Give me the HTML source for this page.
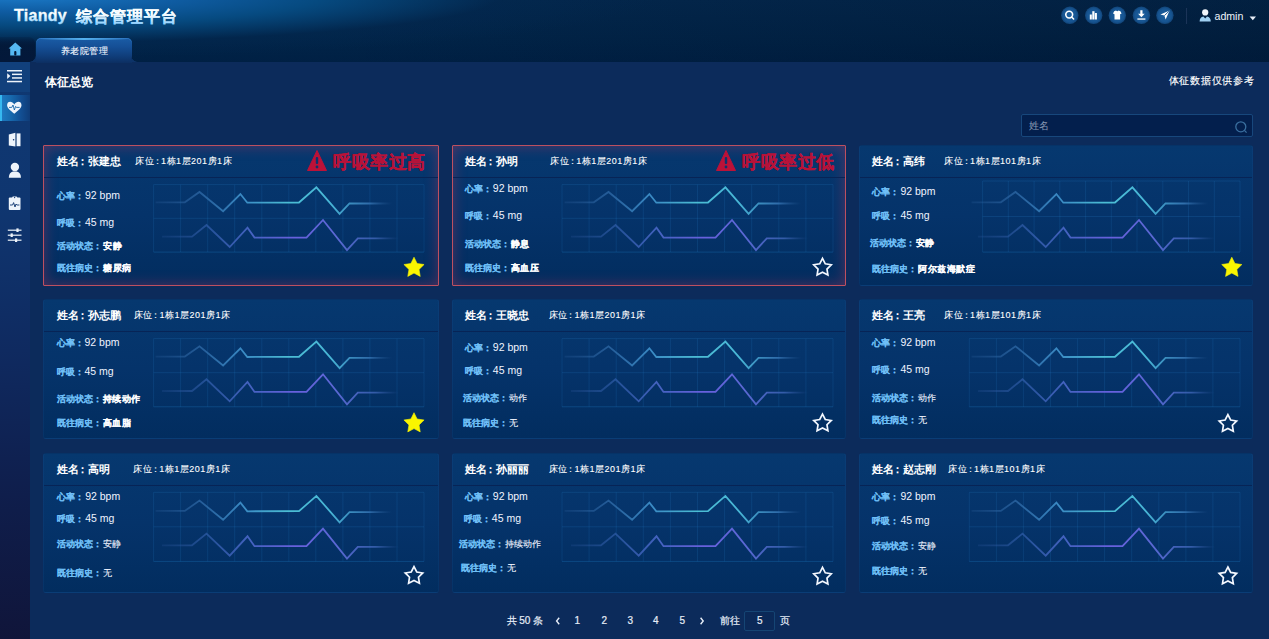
<!DOCTYPE html>
<html><head><meta charset="utf-8"><style>
*{margin:0;padding:0;box-sizing:border-box}
html,body{width:1269px;height:639px;overflow:hidden;background:#0c2b5b;font-family:"Liberation Sans",sans-serif;color:#fff}
.abs,.t,.card,.hline,.chart,.star,.warn{position:absolute}
#header{position:absolute;left:0;top:0;width:1269px;height:62px}
#sidebar{position:absolute;left:0;top:62px;width:30px;height:577px}
.t{white-space:nowrap;line-height:1}
.card{border:1px solid rgba(70,130,210,0.08);border-radius:3px;background:linear-gradient(180deg,#06386f 0%,#05336a 50%,#022d5f 100%)}
.card.alert{border:1px solid #bd5060;border-radius:1px;box-shadow:inset 0 0 14px rgba(180,50,90,0.45)}
.hline{height:1px;background:#072456}
.name{font-size:11px;font-weight:bold;color:#fff;transform:translateY(-50%)}
.bed{font-size:9px;letter-spacing:0.5px;-webkit-text-stroke:0.1px #fff;color:#fff;transform:translateY(-50%)}
.alerttxt{font-size:18px;font-weight:bold;color:#b81238;letter-spacing:0.6px;-webkit-text-stroke:0.3px #b81238;transform:translateY(-50%);margin-top:0.5px}
.row{transform:translateY(-50%);font-size:9px}
.lab{color:#70c0f8;font-weight:bold;-webkit-text-stroke:0.05px #70c0f8}
.val{color:#f0f4ff;font-size:9px;-webkit-text-stroke:0.1px #f0f4ff}
.val.en{font-size:10.5px;-webkit-text-stroke:0}
.val.b{font-weight:bold;font-size:9px;letter-spacing:0.5px;-webkit-text-stroke:0.15px #fff}
.gv{stroke:rgba(50,150,225,0.14);stroke-width:1}
.gh{stroke:rgba(50,150,225,0.16);stroke-width:1}
.gb{stroke:rgba(40,150,230,0.24);stroke-width:1}
#header{background:radial-gradient(ellipse 640px 62px at 20px -4px,#1b7ac8 0%,#0f5ca2 25%,#064a80 47%,rgba(3,40,80,0.5) 75%,rgba(2,30,62,0) 100%),linear-gradient(90deg,rgba(0,0,0,0) 0%,rgba(0,0,0,0) 25%,rgba(1,14,34,0.3) 100%),linear-gradient(180deg,#03284e 0%,#012448 60%,#002044 100%)}
.tab{border-radius:5px 5px 0 0;background:linear-gradient(180deg,#1a5ca6 0%,#154f96 35%,#0f3c78 75%,#0c2f62 100%);box-shadow:inset 0 1px 0 rgba(60,140,220,0.5)}
.pg{font-size:10px;color:#e6edf7;-webkit-text-stroke:0.2px #e6edf7}
#sidebar{background:linear-gradient(180deg,#0f3872 0%,#0f3670 25%,#0f2a60 50%,#0f1e4c 75%,#10153a 100%)}
.co{display:inline-block;margin-left:0px;margin-right:1px}
.co2{display:inline-block;margin-left:-2px;margin-right:0px}
.co3{display:inline-block;margin-left:-1.5px;margin-right:-1px}

</style></head><body>
<div id="header"></div>
<svg class="abs" style="left:0;top:0;z-index:2" width="200" height="32" viewBox="0 0 200 32"><defs><linearGradient id="lg" x1="0" y1="8" x2="0" y2="24" gradientUnits="userSpaceOnUse"><stop offset="0" stop-color="#ffffff"/><stop offset="0.45" stop-color="#f4fbff"/><stop offset="1" stop-color="#8ccfff"/></linearGradient></defs>
<text x="14" y="20.5" font-family="Liberation Sans" font-weight="bold" font-size="16" fill="url(#lg)" stroke="url(#lg)" stroke-width="0.3" style="letter-spacing:0.3px">Tiandy</text>
<text x="75.5" y="21.5" font-family="Liberation Sans" font-weight="bold" font-size="16" fill="url(#lg)" stroke="url(#lg)" stroke-width="0.2" style="letter-spacing:1px">综合管理平台</text></svg>
<!-- header icons -->
<svg class="abs" style="left:1055px;top:0;z-index:3" width="125" height="32" viewBox="1055 0 125 32">
 <defs><radialGradient id="cg"><stop offset="0" stop-color="#1c609f"/><stop offset="0.75" stop-color="#175592"/><stop offset="1" stop-color="#114478"/></radialGradient></defs>
 <g fill="url(#cg)">
  <circle cx="1069.8" cy="15.3" r="8.7"/><circle cx="1093.7" cy="15.3" r="8.7"/><circle cx="1117.3" cy="15.3" r="8.7"/><circle cx="1141.4" cy="15.3" r="8.7"/><circle cx="1164.9" cy="15.3" r="8.7"/>
 </g>
 <!-- search -->
 <circle cx="1069.2" cy="14.6" r="3.4" fill="none" stroke="#fff" stroke-width="1.6"/>
 <line x1="1071.6" y1="17" x2="1073.6" y2="19" stroke="#fff" stroke-width="1.6" stroke-linecap="round"/>
 <!-- chart -->
 <g fill="#fff"><rect x="1089.8" y="14.5" width="2" height="5"/><rect x="1092.3" y="11.2" width="2.2" height="8.3"/><rect x="1094.9" y="13" width="2" height="6.5"/></g>
 <!-- shirt -->
 <path d="M1114.2 11.2 L1116 10.6 Q1117.3 11.8 1118.6 10.6 L1120.4 11.2 L1121.6 13.6 L1120.1 14.2 L1120.1 19.6 L1114.5 19.6 L1114.5 14.2 L1113 13.6 Z" fill="#fff"/>
 <!-- download -->
 <path d="M1140.3 10.2 h2.2 v3.6 h2.2 l-3.3 3.4 l-3.3 -3.4 h2.2 z" fill="#fff"/>
 <rect x="1137.4" y="18.4" width="8" height="1.3" fill="#fff"/>
 <!-- send -->
 <path d="M1169.6 10.6 L1160.4 14.6 L1164.4 15.6 L1165.6 19.6 Z" fill="#fff"/>
 <path d="M1169.6 10.6 L1164.4 15.6" stroke="#15548f" stroke-width="0.9"/>
</svg>
<div class="abs" style="left:1186px;top:8px;width:1px;height:16px;background:#1b3458;z-index:3"></div>
<svg class="abs" style="left:1199px;top:9px;z-index:3" width="13" height="13" viewBox="0 0 13 13">
 <circle cx="6.2" cy="3.4" r="3.1" fill="#f2f6fb"/>
 <path d="M0.6 12.6 Q0.8 8 4.4 7.6 L6.2 9.4 L8 7.6 Q11.6 8 11.8 12.6 Z" fill="#9fd0f2"/>
</svg>
<div class="t" style="left:1214.5px;top:10.5px;font-size:10.6px;color:#eef3fa;z-index:3">admin</div>
<svg class="abs" style="left:1249px;top:16px;z-index:3" width="8" height="5" viewBox="0 0 8 5"><path d="M0.6 0.6 L7 0.6 L3.8 4.2 Z" fill="#e8eef8"/></svg>

<!-- home dark area + icon -->
<div class="abs" style="left:0;top:37px;width:35px;height:25px;background:linear-gradient(180deg,rgba(3,24,56,0.2),rgba(3,24,56,0.9) 35%,#03183a 100%);border-radius:0 6px 6px 0;z-index:2"></div>
<svg class="abs" style="left:8px;top:42px;z-index:3" width="15" height="15" viewBox="0 0 15 15">
 <path d="M7.3 0.6 L14 6.6 L12.4 6.6 L12.4 13.6 L2.2 13.6 L2.2 6.6 L0.6 6.6 Z" fill="#55b8f2"/>
 <rect x="6.2" y="9" width="2.2" height="4.6" rx="1" fill="#041838"/>
</svg>
<!-- tab -->
<div class="abs tab" style="left:36px;top:38px;width:96px;height:25px;z-index:3"></div>
<div class="abs" style="left:40px;top:38px;width:88px;height:1.5px;z-index:3;background:linear-gradient(90deg,rgba(80,180,245,0) 0%,rgba(90,185,245,0.9) 50%,rgba(80,180,245,0) 100%)"></div>
<div class="abs" style="left:131px;top:55px;width:7px;height:7px;z-index:3;background:radial-gradient(circle at 7px 0px,rgba(0,0,0,0) 6.5px,#0d3368 7.2px)"></div>
<div class="abs" style="left:29px;top:55px;width:7px;height:7px;z-index:3;background:radial-gradient(circle at 0px 0px,rgba(0,0,0,0) 6.5px,#0d3368 7.2px)"></div>
<div class="t" style="left:60.5px;top:46.5px;font-size:9px;letter-spacing:0.6px;color:#f4f8ff;-webkit-text-stroke:0.1px #f4f8ff;z-index:4">养老院管理</div>

<div id="sidebar"></div>
<div class="abs" style="left:0;top:62px;width:30px;height:30px;background:#11407c"></div>
<div class="abs" style="left:0;top:95px;width:30px;height:26px;background:linear-gradient(90deg,#1f7cc4 0%,#176aae 35%,#124e92 70%,#0f3c78 100%)"></div>
<div class="abs" style="left:0;top:95px;width:1.5px;height:26px;background:#36b8f0"></div>
<svg class="abs" style="left:0;top:62px" width="30" height="190" viewBox="0 0 30 190">
 <g fill="#eef4fb">
  <!-- menu icon 7..22 x, 70..82.5 y -->
  <rect x="7" y="8" width="15" height="1.5"/><rect x="12" y="11.6" width="10" height="1.5"/><rect x="12" y="15.2" width="10" height="1.5"/><rect x="7" y="18.8" width="15" height="1.5"/>
  <path d="M7.2 11.2 L10.4 14.1 L7.2 17 Z"/>
  <!-- heart 7..21.4, 101..113.7 -->
  <path d="M14.3 42.4 C12 38.6 7 39.2 7.1 43.2 C7.2 46 10 48 14.3 51.8 C18.6 48 21.4 46 21.5 43.2 C21.6 39.2 16.6 38.6 14.3 42.4 Z"/>
 </g>
 <path d="M9 45.4 L11.8 45.4 L13 43 L14.4 48 L15.6 44.4 L16.4 45.4 L19.6 45.4" fill="none" stroke="#1565a8" stroke-width="0.9"/>
 <g fill="#eef4fb">
  <!-- door 8.8..20.5, 132.8..146.5 -->
  <path d="M8.8 72.4 L15.4 70.8 L15.4 84.6 L8.8 83.4 Z"/>
  <rect x="16.6" y="71.4" width="3.9" height="12.8"/>
 </g>
 <circle cx="13.6" cy="77.8" r="0.8" fill="#0e356f"/>
 <g fill="#eef4fb">
  <!-- person 8.8..21, 163..177.8 -->
  <circle cx="14.9" cy="105" r="4.2"/>
  <path d="M8.8 115.8 Q9 110.4 13 109.6 L16.8 109.6 Q20.8 110.4 21 115.8 Z"/>
  <!-- clipboard 8.8..20.5, 196.4..210 -->
  <rect x="8.8" y="135.6" width="11.7" height="12.4" rx="1"/>
  <rect x="12.2" y="134.4" width="5" height="2.6" rx="1"/>
  <!-- sliders 7.8..21.5, 228.7..242 -->
  <rect x="7.8" y="167.6" width="13.7" height="1.2"/><rect x="7.8" y="172.6" width="13.7" height="1.2"/><rect x="7.8" y="177.6" width="13.7" height="1.2"/>
  <rect x="16.4" y="166.4" width="2.2" height="3.6"/><rect x="10.6" y="171.4" width="2.2" height="3.6"/><rect x="15" y="176.4" width="2.2" height="3.6"/>
 </g>
 <path d="M10 143 L12.6 143 L13.6 140.6 L15 145 L16 142 L16.8 143 L19.4 143" fill="none" stroke="#0e356f" stroke-width="0.9"/>
 <circle cx="14.6" cy="135.6" r="0.7" fill="#0e356f"/>
</svg>

<div class="t" style="left:44.5px;top:76px;font-size:12px;font-weight:bold">体征总览</div>
<div class="t" style="left:1168.5px;top:76px;font-size:10px;letter-spacing:0.75px;-webkit-text-stroke:0.15px #fff">体征数据仅供参考</div>
<!-- search -->
<div class="abs" style="left:1021px;top:114px;width:232px;height:23px;background:#031f4d;border:1px solid #17477c;border-radius:2px"></div>
<div class="t" style="left:1029px;top:121px;font-size:9.6px;color:#8a9bb4">姓名</div>
<svg class="abs" style="left:1234px;top:120px" width="14" height="14" viewBox="0 0 14 14"><circle cx="6.8" cy="6.8" r="5" fill="none" stroke="#3a6f9f" stroke-width="1.3"/><line x1="10.4" y1="10.4" x2="12.6" y2="12.6" stroke="#3a6f9f" stroke-width="1.3"/></svg>
<!-- pagination -->
<div class="t pg" style="left:506.5px;top:615.5px">共 50 条</div>
<svg class="abs" style="left:554px;top:616px" width="8" height="10" viewBox="0 0 8 10"><polyline points="5.2,1.8 2.6,5 5.2,8.2" fill="none" stroke="#e6edf7" stroke-width="1.4"/></svg>
<div class="t pg" style="left:574.5px;top:615.5px">1</div>
<div class="t pg" style="left:601.5px;top:615.5px">2</div>
<div class="t pg" style="left:627.5px;top:615.5px">3</div>
<div class="t pg" style="left:653px;top:615.5px">4</div>
<div class="t pg" style="left:679.5px;top:615.5px">5</div>
<svg class="abs" style="left:698px;top:616px" width="8" height="10" viewBox="0 0 8 10"><polyline points="2.6,1.8 5.2,5 2.6,8.2" fill="none" stroke="#e6edf7" stroke-width="1.4"/></svg>
<div class="t pg" style="left:719.5px;top:615.5px">前往</div>
<div class="abs" style="left:744px;top:611px;width:31px;height:20px;border:1px solid #154574;border-radius:2px;background:#0b2958"></div>
<div class="t pg" style="left:757px;top:615.5px">5</div>
<div class="t pg" style="left:779.5px;top:615.5px">页</div>

<svg width="0" height="0" style="position:absolute"><defs>
<linearGradient id="lt" x1="112" x2="349" y1="0" y2="0" gradientUnits="userSpaceOnUse">
<stop offset="0" stop-color="#2a5c98" stop-opacity="0.25"/><stop offset="0.19" stop-color="#2f6aa8" stop-opacity="0.75"/><stop offset="0.37" stop-color="#3a8ac4"/><stop offset="0.56" stop-color="#4bbdd4"/><stop offset="0.74" stop-color="#48b6d6"/><stop offset="0.9" stop-color="#3a7cbc" stop-opacity="0.8"/><stop offset="1" stop-color="#2a5c98" stop-opacity="0"/></linearGradient>
<linearGradient id="lp" x1="119" x2="356" y1="0" y2="0" gradientUnits="userSpaceOnUse">
<stop offset="0" stop-color="#2a5498" stop-opacity="0.25"/><stop offset="0.19" stop-color="#2f5ca8" stop-opacity="0.75"/><stop offset="0.37" stop-color="#4462c0"/><stop offset="0.56" stop-color="#6860de"/><stop offset="0.74" stop-color="#5a68d4"/><stop offset="0.9" stop-color="#3e66b8" stop-opacity="0.8"/><stop offset="1" stop-color="#2a5498" stop-opacity="0"/></linearGradient>
</defs></svg>
<div class="card alert" style="left:43px;top:145px;height:141px;width:396px"></div>
<div class="hline" style="left:44px;top:177px;width:394px"></div>
<div class="t name" style="left:57px;top:161px">姓名<span class=co2>：</span>张建忠</div>
<div class="t bed" style="left:135px;top:161px">床位<span class=co3>：</span>1栋1层201房1床</div>
<svg class="warn" style="left:307px;top:150px" width="20" height="21" viewBox="0 0 20 21"><path d="M10 0.5 L19.5 20.5 L0.5 20.5 Z" fill="#bc1238" stroke="#bc1238" stroke-width="1" stroke-linejoin="round"/><rect x="8.8" y="7" width="2.4" height="7" rx="1" fill="#0b3470"/><circle cx="10" cy="17" r="1.4" fill="#0b3470"/></svg>
<div class="t alerttxt" style="left:333px;top:161px">呼吸率过高</div>
<div class="t row" style="left:57px;top:194.6px"><span class="lab">心率<span class=co>：</span></span><span class="val en">92 bpm</span></div>
<div class="t row" style="left:57px;top:221.8px"><span class="lab">呼吸<span class=co>：</span></span><span class="val en">45 mg</span></div>
<div class="t row" style="left:57px;top:246px"><span class="lab">活动状态<span class=co>：</span></span><span class="val b">安静</span></div>
<div class="t row" style="left:57px;top:268.4px"><span class="lab">既往病史<span class=co>：</span></span><span class="val b">糖尿病</span></div>
<svg class="chart" style="left:43px;top:145px" width="395" height="141" viewBox="0 0 395 141"><defs><linearGradient id="gt0" x1="0" x2="1" y1="0" y2="0" gradientUnits="userSpaceOnUse"></linearGradient></defs><line x1="110.6" y1="39.6" x2="110.6" y2="107.1" class="gv"/><line x1="137.6" y1="39.6" x2="137.6" y2="107.1" class="gv"/><line x1="164.7" y1="39.6" x2="164.7" y2="107.1" class="gv"/><line x1="191.7" y1="39.6" x2="191.7" y2="107.1" class="gv"/><line x1="218.8" y1="39.6" x2="218.8" y2="107.1" class="gv"/><line x1="245.8" y1="39.6" x2="245.8" y2="107.1" class="gv"/><line x1="272.8" y1="39.6" x2="272.8" y2="107.1" class="gv"/><line x1="299.9" y1="39.6" x2="299.9" y2="107.1" class="gv"/><line x1="326.9" y1="39.6" x2="326.9" y2="107.1" class="gv"/><line x1="354.0" y1="39.6" x2="354.0" y2="107.1" class="gv"/><line x1="381.0" y1="39.6" x2="381.0" y2="107.1" class="gv"/><line x1="110.6" y1="39.6" x2="381" y2="39.6" class="gh"/><line x1="110.6" y1="73.3" x2="381" y2="73.3" class="gh"/><line x1="110.6" y1="107.1" x2="381" y2="107.1" class="gb"/><polyline points="112.6,57.3 141.8,57.3 156.5,47.0 180.1,66.2 197.4,49.0 204.3,57.7 256.0,57.5 273.4,42.3 296.6,68.8 306.5,58.5 349.0,58.5" fill="none" stroke="url(#lt)" stroke-width="1.8" stroke-linejoin="miter"/><polyline points="119.0,91.7 149.0,91.7 163.5,80.0 186.7,102.0 204.5,82.7 211.5,92.6 263.5,92.6 280.0,75.0 304.0,105.0 314.8,93.3 356.0,93.3" fill="none" stroke="url(#lp)" stroke-width="1.8" stroke-linejoin="miter"/></svg>
<svg class="star" style="left:0;top:0" width="1269" height="639"><polygon points="414.00,257.20 417.12,263.51 424.08,264.52 419.04,269.44 420.23,276.38 414.00,273.10 407.77,276.38 408.96,269.44 403.92,264.52 410.88,263.51" fill="#faf500" stroke="#faf500" stroke-width="0.6" stroke-linejoin="round"/></svg>
<div class="card alert" style="left:452px;top:145px;height:141px;width:394px"></div>
<div class="hline" style="left:453px;top:177px;width:392px"></div>
<div class="t name" style="left:464.8px;top:161px">姓名<span class=co2>：</span>孙明</div>
<div class="t bed" style="left:550.3px;top:161px">床位<span class=co3>：</span>1栋1层201房1床</div>
<svg class="warn" style="left:716px;top:150px" width="20" height="21" viewBox="0 0 20 21"><path d="M10 0.5 L19.5 20.5 L0.5 20.5 Z" fill="#bc1238" stroke="#bc1238" stroke-width="1" stroke-linejoin="round"/><rect x="8.8" y="7" width="2.4" height="7" rx="1" fill="#0b3470"/><circle cx="10" cy="17" r="1.4" fill="#0b3470"/></svg>
<div class="t alerttxt" style="left:742px;top:161px">呼吸率过低</div>
<div class="t row" style="left:464.8px;top:188px"><span class="lab">心率<span class=co>：</span></span><span class="val en">92 bpm</span></div>
<div class="t row" style="left:464.8px;top:215px"><span class="lab">呼吸<span class=co>：</span></span><span class="val en">45 mg</span></div>
<div class="t row" style="left:464.8px;top:244.3px"><span class="lab">活动状态<span class=co>：</span></span><span class="val b">静息</span></div>
<div class="t row" style="left:464.8px;top:268.4px"><span class="lab">既往病史<span class=co>：</span></span><span class="val b">高血压</span></div>
<svg class="chart" style="left:452px;top:145px" width="395" height="141" viewBox="0 0 395 141"><defs><linearGradient id="gt1" x1="0" x2="1" y1="0" y2="0" gradientUnits="userSpaceOnUse"></linearGradient></defs><line x1="110.0" y1="39.6" x2="110.0" y2="107.1" class="gv"/><line x1="137.1" y1="39.6" x2="137.1" y2="107.1" class="gv"/><line x1="164.2" y1="39.6" x2="164.2" y2="107.1" class="gv"/><line x1="191.3" y1="39.6" x2="191.3" y2="107.1" class="gv"/><line x1="218.4" y1="39.6" x2="218.4" y2="107.1" class="gv"/><line x1="245.5" y1="39.6" x2="245.5" y2="107.1" class="gv"/><line x1="272.6" y1="39.6" x2="272.6" y2="107.1" class="gv"/><line x1="299.7" y1="39.6" x2="299.7" y2="107.1" class="gv"/><line x1="326.8" y1="39.6" x2="326.8" y2="107.1" class="gv"/><line x1="353.9" y1="39.6" x2="353.9" y2="107.1" class="gv"/><line x1="381.0" y1="39.6" x2="381.0" y2="107.1" class="gv"/><line x1="110" y1="39.6" x2="381" y2="39.6" class="gh"/><line x1="110" y1="73.3" x2="381" y2="73.3" class="gh"/><line x1="110" y1="107.1" x2="381" y2="107.1" class="gb"/><polyline points="112.6,57.3 141.8,57.3 156.5,47.0 180.1,66.2 197.4,49.0 204.3,57.7 256.0,57.5 273.4,42.3 296.6,68.8 306.5,58.5 349.0,58.5" fill="none" stroke="url(#lt)" stroke-width="1.8" stroke-linejoin="miter"/><polyline points="119.0,91.7 149.0,91.7 163.5,80.0 186.7,102.0 204.5,82.7 211.5,92.6 263.5,92.6 280.0,75.0 304.0,105.0 314.8,93.3 356.0,93.3" fill="none" stroke="url(#lp)" stroke-width="1.8" stroke-linejoin="miter"/></svg>
<svg class="star" style="left:0;top:0" width="1269" height="639"><polygon points="822.50,258.40 825.26,263.80 831.25,264.76 826.97,269.05 827.91,275.04 822.50,272.30 817.09,275.04 818.03,269.05 813.75,264.76 819.74,263.80" fill="none" stroke="#f4f8ff" stroke-width="1.7" stroke-linejoin="miter" stroke-miterlimit="3"/></svg>
<div class="card" style="left:859px;top:145px;height:141px;width:394px"></div>
<div class="hline" style="left:860px;top:177px;width:392px"></div>
<div class="t name" style="left:872.4px;top:161px">姓名<span class=co2>：</span>高纬</div>
<div class="t bed" style="left:944px;top:161px">床位<span class=co3>：</span>1栋1层101房1床</div>
<div class="t row" style="left:872.4px;top:191px"><span class="lab">心率<span class=co>：</span></span><span class="val en">92 bpm</span></div>
<div class="t row" style="left:872.4px;top:215.2px"><span class="lab">呼吸<span class=co>：</span></span><span class="val en">45 mg</span></div>
<div class="t row" style="left:869.8px;top:243.3px"><span class="lab">活动状态<span class=co>：</span></span><span class="val b">安静</span></div>
<div class="t row" style="left:872.4px;top:268.7px"><span class="lab">既往病史<span class=co>：</span></span><span class="val b">阿尔兹海默症</span></div>
<svg class="chart" style="left:859px;top:145px" width="395" height="141" viewBox="0 0 395 141"><defs><linearGradient id="gt2" x1="0" x2="1" y1="0" y2="0" gradientUnits="userSpaceOnUse"></linearGradient></defs><line x1="123.6" y1="36" x2="123.6" y2="107.1" class="gv"/><line x1="149.3" y1="36" x2="149.3" y2="107.1" class="gv"/><line x1="175.1" y1="36" x2="175.1" y2="107.1" class="gv"/><line x1="200.8" y1="36" x2="200.8" y2="107.1" class="gv"/><line x1="226.6" y1="36" x2="226.6" y2="107.1" class="gv"/><line x1="252.3" y1="36" x2="252.3" y2="107.1" class="gv"/><line x1="278.0" y1="36" x2="278.0" y2="107.1" class="gv"/><line x1="303.8" y1="36" x2="303.8" y2="107.1" class="gv"/><line x1="329.5" y1="36" x2="329.5" y2="107.1" class="gv"/><line x1="355.3" y1="36" x2="355.3" y2="107.1" class="gv"/><line x1="381.0" y1="36" x2="381.0" y2="107.1" class="gv"/><line x1="123.6" y1="36.0" x2="381" y2="36.0" class="gh"/><line x1="123.6" y1="71.5" x2="381" y2="71.5" class="gh"/><line x1="123.6" y1="107.1" x2="381" y2="107.1" class="gb"/><polyline points="112.6,57.3 141.8,57.3 156.5,47.0 180.1,66.2 197.4,49.0 204.3,57.7 256.0,57.5 273.4,42.3 296.6,68.8 306.5,58.5 349.0,58.5" fill="none" stroke="url(#lt)" stroke-width="1.8" stroke-linejoin="miter"/><polyline points="119.0,91.7 149.0,91.7 163.5,80.0 186.7,102.0 204.5,82.7 211.5,92.6 263.5,92.6 280.0,75.0 304.0,105.0 314.8,93.3 356.0,93.3" fill="none" stroke="url(#lp)" stroke-width="1.8" stroke-linejoin="miter"/></svg>
<svg class="star" style="left:0;top:0" width="1269" height="639"><polygon points="1231.80,257.20 1234.92,263.51 1241.88,264.52 1236.84,269.44 1238.03,276.38 1231.80,273.10 1225.57,276.38 1226.76,269.44 1221.72,264.52 1228.68,263.51" fill="#faf500" stroke="#faf500" stroke-width="0.6" stroke-linejoin="round"/></svg>
<div class="card" style="left:43px;top:299px;height:140px;width:396px"></div>
<div class="hline" style="left:44px;top:331px;width:394px"></div>
<div class="t name" style="left:56.5px;top:315px">姓名<span class=co2>：</span>孙志鹏</div>
<div class="t bed" style="left:133.6px;top:315px">床位<span class=co3>：</span>1栋1层201房1床</div>
<div class="t row" style="left:56.5px;top:342px"><span class="lab">心率<span class=co>：</span></span><span class="val en">92 bpm</span></div>
<div class="t row" style="left:56.5px;top:371px"><span class="lab">呼吸<span class=co>：</span></span><span class="val en">45 mg</span></div>
<div class="t row" style="left:56.5px;top:398.6px"><span class="lab">活动状态<span class=co>：</span></span><span class="val b">持续动作</span></div>
<div class="t row" style="left:56.5px;top:423px"><span class="lab">既往病史<span class=co>：</span></span><span class="val b">高血脂</span></div>
<svg class="chart" style="left:43px;top:299px" width="395" height="140" viewBox="0 0 395 140"><defs><linearGradient id="gt3" x1="0" x2="1" y1="0" y2="0" gradientUnits="userSpaceOnUse"></linearGradient></defs><line x1="110.6" y1="39.6" x2="110.6" y2="107.8" class="gv"/><line x1="137.6" y1="39.6" x2="137.6" y2="107.8" class="gv"/><line x1="164.7" y1="39.6" x2="164.7" y2="107.8" class="gv"/><line x1="191.7" y1="39.6" x2="191.7" y2="107.8" class="gv"/><line x1="218.8" y1="39.6" x2="218.8" y2="107.8" class="gv"/><line x1="245.8" y1="39.6" x2="245.8" y2="107.8" class="gv"/><line x1="272.8" y1="39.6" x2="272.8" y2="107.8" class="gv"/><line x1="299.9" y1="39.6" x2="299.9" y2="107.8" class="gv"/><line x1="326.9" y1="39.6" x2="326.9" y2="107.8" class="gv"/><line x1="354.0" y1="39.6" x2="354.0" y2="107.8" class="gv"/><line x1="381.0" y1="39.6" x2="381.0" y2="107.8" class="gv"/><line x1="110.6" y1="39.6" x2="381" y2="39.6" class="gh"/><line x1="110.6" y1="73.7" x2="381" y2="73.7" class="gh"/><line x1="110.6" y1="107.8" x2="381" y2="107.8" class="gb"/><polyline points="112.6,57.6 141.8,57.6 156.5,47.3 180.1,66.5 197.4,49.3 204.3,58.0 256.0,57.8 273.4,42.6 296.6,69.1 306.5,58.8 349.0,58.8" fill="none" stroke="url(#lt)" stroke-width="1.8" stroke-linejoin="miter"/><polyline points="119.0,92.0 149.0,92.0 163.5,80.3 186.7,102.3 204.5,83.0 211.5,92.9 263.5,92.9 280.0,75.3 304.0,105.3 314.8,93.6 356.0,93.6" fill="none" stroke="url(#lp)" stroke-width="1.8" stroke-linejoin="miter"/></svg>
<svg class="star" style="left:0;top:0" width="1269" height="639"><polygon points="414.00,412.70 417.12,419.01 424.08,420.02 419.04,424.94 420.23,431.88 414.00,428.60 407.77,431.88 408.96,424.94 403.92,420.02 410.88,419.01" fill="#faf500" stroke="#faf500" stroke-width="0.6" stroke-linejoin="round"/></svg>
<div class="card" style="left:452px;top:299px;height:140px;width:394px"></div>
<div class="hline" style="left:453px;top:331px;width:392px"></div>
<div class="t name" style="left:464.8px;top:315px">姓名<span class=co2>：</span>王晓忠</div>
<div class="t bed" style="left:548.6px;top:315px">床位<span class=co3>：</span>1栋1层201房1床</div>
<div class="t row" style="left:464.8px;top:347px"><span class="lab">心率<span class=co>：</span></span><span class="val en">92 bpm</span></div>
<div class="t row" style="left:464.8px;top:369.5px"><span class="lab">呼吸<span class=co>：</span></span><span class="val en">45 mg</span></div>
<div class="t row" style="left:462.5px;top:397.6px"><span class="lab">活动状态<span class=co>：</span></span><span class="val">动作</span></div>
<div class="t row" style="left:462.5px;top:422.5px"><span class="lab">既往病史<span class=co>：</span></span><span class="val">无</span></div>
<svg class="chart" style="left:452px;top:299px" width="395" height="140" viewBox="0 0 395 140"><defs><linearGradient id="gt4" x1="0" x2="1" y1="0" y2="0" gradientUnits="userSpaceOnUse"></linearGradient></defs><line x1="110.0" y1="39.6" x2="110.0" y2="107.8" class="gv"/><line x1="137.1" y1="39.6" x2="137.1" y2="107.8" class="gv"/><line x1="164.2" y1="39.6" x2="164.2" y2="107.8" class="gv"/><line x1="191.3" y1="39.6" x2="191.3" y2="107.8" class="gv"/><line x1="218.4" y1="39.6" x2="218.4" y2="107.8" class="gv"/><line x1="245.5" y1="39.6" x2="245.5" y2="107.8" class="gv"/><line x1="272.6" y1="39.6" x2="272.6" y2="107.8" class="gv"/><line x1="299.7" y1="39.6" x2="299.7" y2="107.8" class="gv"/><line x1="326.8" y1="39.6" x2="326.8" y2="107.8" class="gv"/><line x1="353.9" y1="39.6" x2="353.9" y2="107.8" class="gv"/><line x1="381.0" y1="39.6" x2="381.0" y2="107.8" class="gv"/><line x1="110" y1="39.6" x2="381" y2="39.6" class="gh"/><line x1="110" y1="73.7" x2="381" y2="73.7" class="gh"/><line x1="110" y1="107.8" x2="381" y2="107.8" class="gb"/><polyline points="112.6,57.6 141.8,57.6 156.5,47.3 180.1,66.5 197.4,49.3 204.3,58.0 256.0,57.8 273.4,42.6 296.6,69.1 306.5,58.8 349.0,58.8" fill="none" stroke="url(#lt)" stroke-width="1.8" stroke-linejoin="miter"/><polyline points="119.0,92.0 149.0,92.0 163.5,80.3 186.7,102.3 204.5,83.0 211.5,92.9 263.5,92.9 280.0,75.3 304.0,105.3 314.8,93.6 356.0,93.6" fill="none" stroke="url(#lp)" stroke-width="1.8" stroke-linejoin="miter"/></svg>
<svg class="star" style="left:0;top:0" width="1269" height="639"><polygon points="822.50,414.10 825.26,419.50 831.25,420.46 826.97,424.75 827.91,430.74 822.50,428.00 817.09,430.74 818.03,424.75 813.75,420.46 819.74,419.50" fill="none" stroke="#f4f8ff" stroke-width="1.7" stroke-linejoin="miter" stroke-miterlimit="3"/></svg>
<div class="card" style="left:859px;top:299px;height:140px;width:394px"></div>
<div class="hline" style="left:860px;top:331px;width:392px"></div>
<div class="t name" style="left:872.4px;top:315px">姓名<span class=co2>：</span>王亮</div>
<div class="t bed" style="left:944px;top:315px">床位<span class=co3>：</span>1栋1层101房1床</div>
<div class="t row" style="left:872.4px;top:341.8px"><span class="lab">心率<span class=co>：</span></span><span class="val en">92 bpm</span></div>
<div class="t row" style="left:872.4px;top:368.5px"><span class="lab">呼吸<span class=co>：</span></span><span class="val en">45 mg</span></div>
<div class="t row" style="left:872.4px;top:398px"><span class="lab">活动状态<span class=co>：</span></span><span class="val">动作</span></div>
<div class="t row" style="left:872.4px;top:420.4px"><span class="lab">既往病史<span class=co>：</span></span><span class="val">无</span></div>
<svg class="chart" style="left:859px;top:299px" width="395" height="140" viewBox="0 0 395 140"><defs><linearGradient id="gt5" x1="0" x2="1" y1="0" y2="0" gradientUnits="userSpaceOnUse"></linearGradient></defs><line x1="110.3" y1="39.6" x2="110.3" y2="107.8" class="gv"/><line x1="137.4" y1="39.6" x2="137.4" y2="107.8" class="gv"/><line x1="164.4" y1="39.6" x2="164.4" y2="107.8" class="gv"/><line x1="191.5" y1="39.6" x2="191.5" y2="107.8" class="gv"/><line x1="218.6" y1="39.6" x2="218.6" y2="107.8" class="gv"/><line x1="245.6" y1="39.6" x2="245.6" y2="107.8" class="gv"/><line x1="272.7" y1="39.6" x2="272.7" y2="107.8" class="gv"/><line x1="299.8" y1="39.6" x2="299.8" y2="107.8" class="gv"/><line x1="326.9" y1="39.6" x2="326.9" y2="107.8" class="gv"/><line x1="353.9" y1="39.6" x2="353.9" y2="107.8" class="gv"/><line x1="381.0" y1="39.6" x2="381.0" y2="107.8" class="gv"/><line x1="110.3" y1="39.6" x2="381" y2="39.6" class="gh"/><line x1="110.3" y1="73.7" x2="381" y2="73.7" class="gh"/><line x1="110.3" y1="107.8" x2="381" y2="107.8" class="gb"/><polyline points="112.6,57.6 141.8,57.6 156.5,47.3 180.1,66.5 197.4,49.3 204.3,58.0 256.0,57.8 273.4,42.6 296.6,69.1 306.5,58.8 349.0,58.8" fill="none" stroke="url(#lt)" stroke-width="1.8" stroke-linejoin="miter"/><polyline points="119.0,92.0 149.0,92.0 163.5,80.3 186.7,102.3 204.5,83.0 211.5,92.9 263.5,92.9 280.0,75.3 304.0,105.3 314.8,93.6 356.0,93.6" fill="none" stroke="url(#lp)" stroke-width="1.8" stroke-linejoin="miter"/></svg>
<svg class="star" style="left:0;top:0" width="1269" height="639"><polygon points="1227.90,414.60 1230.66,420.00 1236.65,420.96 1232.37,425.25 1233.31,431.24 1227.90,428.50 1222.49,431.24 1223.43,425.25 1219.15,420.96 1225.14,420.00" fill="none" stroke="#f4f8ff" stroke-width="1.7" stroke-linejoin="miter" stroke-miterlimit="3"/></svg>
<div class="card" style="left:43px;top:453px;height:140px;width:396px"></div>
<div class="hline" style="left:44px;top:485px;width:394px"></div>
<div class="t name" style="left:56.5px;top:469px">姓名<span class=co2>：</span>高明</div>
<div class="t bed" style="left:133.3px;top:469px">床位<span class=co3>：</span>1栋1层201房1床</div>
<div class="t row" style="left:57.2px;top:496.3px"><span class="lab">心率<span class=co>：</span></span><span class="val en">92 bpm</span></div>
<div class="t row" style="left:57.2px;top:517.8px"><span class="lab">呼吸<span class=co>：</span></span><span class="val en">45 mg</span></div>
<div class="t row" style="left:57.2px;top:543.7px"><span class="lab">活动状态<span class=co>：</span></span><span class="val">安静</span></div>
<div class="t row" style="left:57.2px;top:572.5px"><span class="lab">既往病史<span class=co>：</span></span><span class="val">无</span></div>
<svg class="chart" style="left:43px;top:453px" width="395" height="140" viewBox="0 0 395 140"><defs><linearGradient id="gt6" x1="0" x2="1" y1="0" y2="0" gradientUnits="userSpaceOnUse"></linearGradient></defs><line x1="110.6" y1="39.3" x2="110.6" y2="108.4" class="gv"/><line x1="137.6" y1="39.3" x2="137.6" y2="108.4" class="gv"/><line x1="164.7" y1="39.3" x2="164.7" y2="108.4" class="gv"/><line x1="191.7" y1="39.3" x2="191.7" y2="108.4" class="gv"/><line x1="218.8" y1="39.3" x2="218.8" y2="108.4" class="gv"/><line x1="245.8" y1="39.3" x2="245.8" y2="108.4" class="gv"/><line x1="272.8" y1="39.3" x2="272.8" y2="108.4" class="gv"/><line x1="299.9" y1="39.3" x2="299.9" y2="108.4" class="gv"/><line x1="326.9" y1="39.3" x2="326.9" y2="108.4" class="gv"/><line x1="354.0" y1="39.3" x2="354.0" y2="108.4" class="gv"/><line x1="381.0" y1="39.3" x2="381.0" y2="108.4" class="gv"/><line x1="110.6" y1="39.3" x2="381" y2="39.3" class="gh"/><line x1="110.6" y1="73.8" x2="381" y2="73.8" class="gh"/><line x1="110.6" y1="108.4" x2="381" y2="108.4" class="gb"/><polyline points="112.6,57.9 141.8,57.9 156.5,47.6 180.1,66.8 197.4,49.6 204.3,58.3 256.0,58.1 273.4,42.9 296.6,69.4 306.5,59.1 349.0,59.1" fill="none" stroke="url(#lt)" stroke-width="1.8" stroke-linejoin="miter"/><polyline points="119.0,92.3 149.0,92.3 163.5,80.6 186.7,102.6 204.5,83.3 211.5,93.2 263.5,93.2 280.0,75.6 304.0,105.6 314.8,93.9 356.0,93.9" fill="none" stroke="url(#lp)" stroke-width="1.8" stroke-linejoin="miter"/></svg>
<svg class="star" style="left:0;top:0" width="1269" height="639"><polygon points="414.00,566.60 416.76,572.00 422.75,572.96 418.47,577.25 419.41,583.24 414.00,580.50 408.59,583.24 409.53,577.25 405.25,572.96 411.24,572.00" fill="none" stroke="#f4f8ff" stroke-width="1.7" stroke-linejoin="miter" stroke-miterlimit="3"/></svg>
<div class="card" style="left:452px;top:453px;height:140px;width:394px"></div>
<div class="hline" style="left:453px;top:485px;width:392px"></div>
<div class="t name" style="left:464.8px;top:469px">姓名<span class=co2>：</span>孙丽丽</div>
<div class="t bed" style="left:548.6px;top:469px">床位<span class=co3>：</span>1栋1层201房1床</div>
<div class="t row" style="left:464.8px;top:496.3px"><span class="lab">心率<span class=co>：</span></span><span class="val en">92 bpm</span></div>
<div class="t row" style="left:463.8px;top:517.8px"><span class="lab">呼吸<span class=co>：</span></span><span class="val en">45 mg</span></div>
<div class="t row" style="left:459.2px;top:543.7px"><span class="lab">活动状态<span class=co>：</span></span><span class="val">持续动作</span></div>
<div class="t row" style="left:460.5px;top:567.5px"><span class="lab">既往病史<span class=co>：</span></span><span class="val">无</span></div>
<svg class="chart" style="left:452px;top:453px" width="395" height="140" viewBox="0 0 395 140"><defs><linearGradient id="gt7" x1="0" x2="1" y1="0" y2="0" gradientUnits="userSpaceOnUse"></linearGradient></defs><line x1="110.0" y1="39.3" x2="110.0" y2="108.4" class="gv"/><line x1="137.1" y1="39.3" x2="137.1" y2="108.4" class="gv"/><line x1="164.2" y1="39.3" x2="164.2" y2="108.4" class="gv"/><line x1="191.3" y1="39.3" x2="191.3" y2="108.4" class="gv"/><line x1="218.4" y1="39.3" x2="218.4" y2="108.4" class="gv"/><line x1="245.5" y1="39.3" x2="245.5" y2="108.4" class="gv"/><line x1="272.6" y1="39.3" x2="272.6" y2="108.4" class="gv"/><line x1="299.7" y1="39.3" x2="299.7" y2="108.4" class="gv"/><line x1="326.8" y1="39.3" x2="326.8" y2="108.4" class="gv"/><line x1="353.9" y1="39.3" x2="353.9" y2="108.4" class="gv"/><line x1="381.0" y1="39.3" x2="381.0" y2="108.4" class="gv"/><line x1="110" y1="39.3" x2="381" y2="39.3" class="gh"/><line x1="110" y1="73.8" x2="381" y2="73.8" class="gh"/><line x1="110" y1="108.4" x2="381" y2="108.4" class="gb"/><polyline points="112.6,57.9 141.8,57.9 156.5,47.6 180.1,66.8 197.4,49.6 204.3,58.3 256.0,58.1 273.4,42.9 296.6,69.4 306.5,59.1 349.0,59.1" fill="none" stroke="url(#lt)" stroke-width="1.8" stroke-linejoin="miter"/><polyline points="119.0,92.3 149.0,92.3 163.5,80.6 186.7,102.6 204.5,83.3 211.5,93.2 263.5,93.2 280.0,75.6 304.0,105.6 314.8,93.9 356.0,93.9" fill="none" stroke="url(#lp)" stroke-width="1.8" stroke-linejoin="miter"/></svg>
<svg class="star" style="left:0;top:0" width="1269" height="639"><polygon points="822.50,567.40 825.26,572.80 831.25,573.76 826.97,578.05 827.91,584.04 822.50,581.30 817.09,584.04 818.03,578.05 813.75,573.76 819.74,572.80" fill="none" stroke="#f4f8ff" stroke-width="1.7" stroke-linejoin="miter" stroke-miterlimit="3"/></svg>
<div class="card" style="left:859px;top:453px;height:140px;width:394px"></div>
<div class="hline" style="left:860px;top:485px;width:392px"></div>
<div class="t name" style="left:872.4px;top:469px">姓名<span class=co2>：</span>赵志刚</div>
<div class="t bed" style="left:948px;top:469px">床位<span class=co3>：</span>1栋1层101房1床</div>
<div class="t row" style="left:872.4px;top:496.2px"><span class="lab">心率<span class=co>：</span></span><span class="val en">92 bpm</span></div>
<div class="t row" style="left:872.4px;top:519.6px"><span class="lab">呼吸<span class=co>：</span></span><span class="val en">45 mg</span></div>
<div class="t row" style="left:872.4px;top:545.7px"><span class="lab">活动状态<span class=co>：</span></span><span class="val">安静</span></div>
<div class="t row" style="left:872.4px;top:571.4px"><span class="lab">既往病史<span class=co>：</span></span><span class="val">无</span></div>
<svg class="chart" style="left:859px;top:453px" width="395" height="140" viewBox="0 0 395 140"><defs><linearGradient id="gt8" x1="0" x2="1" y1="0" y2="0" gradientUnits="userSpaceOnUse"></linearGradient></defs><line x1="110.3" y1="39.3" x2="110.3" y2="108.4" class="gv"/><line x1="137.4" y1="39.3" x2="137.4" y2="108.4" class="gv"/><line x1="164.4" y1="39.3" x2="164.4" y2="108.4" class="gv"/><line x1="191.5" y1="39.3" x2="191.5" y2="108.4" class="gv"/><line x1="218.6" y1="39.3" x2="218.6" y2="108.4" class="gv"/><line x1="245.6" y1="39.3" x2="245.6" y2="108.4" class="gv"/><line x1="272.7" y1="39.3" x2="272.7" y2="108.4" class="gv"/><line x1="299.8" y1="39.3" x2="299.8" y2="108.4" class="gv"/><line x1="326.9" y1="39.3" x2="326.9" y2="108.4" class="gv"/><line x1="353.9" y1="39.3" x2="353.9" y2="108.4" class="gv"/><line x1="381.0" y1="39.3" x2="381.0" y2="108.4" class="gv"/><line x1="110.3" y1="39.3" x2="381" y2="39.3" class="gh"/><line x1="110.3" y1="73.8" x2="381" y2="73.8" class="gh"/><line x1="110.3" y1="108.4" x2="381" y2="108.4" class="gb"/><polyline points="112.6,57.9 141.8,57.9 156.5,47.6 180.1,66.8 197.4,49.6 204.3,58.3 256.0,58.1 273.4,42.9 296.6,69.4 306.5,59.1 349.0,59.1" fill="none" stroke="url(#lt)" stroke-width="1.8" stroke-linejoin="miter"/><polyline points="119.0,92.3 149.0,92.3 163.5,80.6 186.7,102.6 204.5,83.3 211.5,93.2 263.5,93.2 280.0,75.6 304.0,105.6 314.8,93.9 356.0,93.9" fill="none" stroke="url(#lp)" stroke-width="1.8" stroke-linejoin="miter"/></svg>
<svg class="star" style="left:0;top:0" width="1269" height="639"><polygon points="1227.90,567.00 1230.66,572.40 1236.65,573.36 1232.37,577.65 1233.31,583.64 1227.90,580.90 1222.49,583.64 1223.43,577.65 1219.15,573.36 1225.14,572.40" fill="none" stroke="#f4f8ff" stroke-width="1.7" stroke-linejoin="miter" stroke-miterlimit="3"/></svg>
</body></html>
